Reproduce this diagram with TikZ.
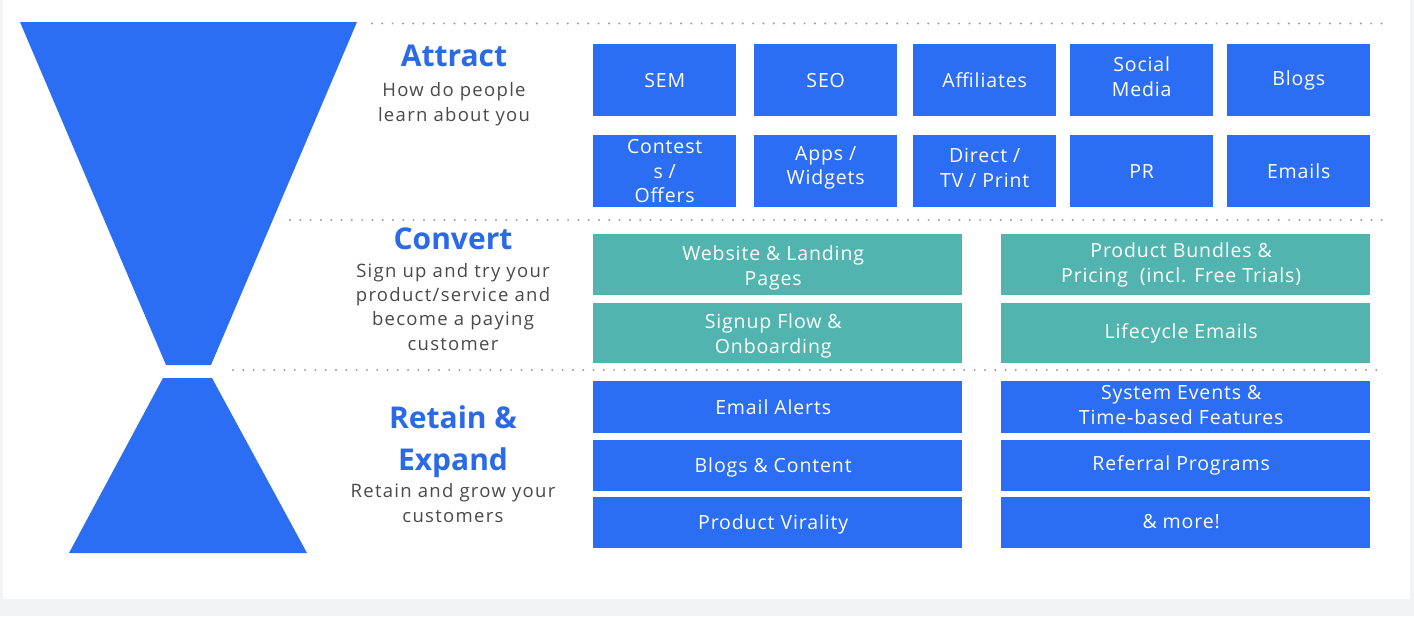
\documentclass[tikz,border=0pt]{standalone}
\usepackage{fontspec}
\setmainfont{Open Sans}
\definecolor{fblue}{HTML}{2B6EF3}
\definecolor{fteal}{HTML}{52B4AE}
\definecolor{hblue}{HTML}{2A6AE9}
\definecolor{sgray}{HTML}{4A4A4A}
\definecolor{bggray}{HTML}{F2F3F5}
\definecolor{dotgray}{HTML}{9C9C9C}
\begin{document}
\begin{tikzpicture}[x=1pt,y=-1pt,
  boxbase/.style={anchor=north west, inner sep=0pt},
  btext/.style={inner sep=0pt, align=center, text=white,
    font=\fontsize{19.5}{24.5}\selectfont\addfontfeature{LetterSpace=4.5}},
  wtext/.style={btext, xshift=-4.5pt},
  smallbox/.style={boxbase, fill=fblue, minimum width=143pt, minimum height=72pt},
  tealbox/.style={boxbase, fill=fteal, minimum width=369pt, minimum height=61pt},
  wideblue/.style={boxbase, fill=fblue, minimum width=369pt, minimum height=52pt},
  heading/.style={anchor=base, inner sep=0pt, align=center, text=hblue,
    font=\fontsize{30}{42}\selectfont\bfseries},
  subtitle/.style={anchor=base, inner sep=0pt, align=center, text=sgray,
    font=\fontsize{18.5}{24.3}\selectfont\addfontfeature{LetterSpace=7}},
  dotline/.style={dotgray, line width=2.2pt, line cap=round, dash pattern=on 0pt off 10.3pt},
  funnel/.style={fill=fblue}
]
\useasboundingbox (0,0) rectangle (1414,616);
\fill[bggray] (0,0) rectangle (1414,616);
\fill[white] (3,0) rectangle (1410,599);

% funnel
\fill[funnel] (20,22) -- (357,22) -- (211,365) -- (166,365) -- cycle;
\fill[funnel] (163,378) -- (212,378) -- (307,553) -- (69,553) -- cycle;

% dotted separators
\coordinate (d1a) at (372,23.5); \coordinate (d1b) at (1386,23.5);
\coordinate (d2a) at (290,220); \coordinate (d2b) at (1386,220);
\coordinate (d3a) at (233,370); \coordinate (d3b) at (1383,370);
\draw[dotline] (d1a) -- (d1b);
\draw[dotline] (d2a) -- (d2b);
\draw[dotline] (d3a) -- (d3b);

% headings (anchor=base refers to the last line's baseline)
\node[heading] (hattract) at (454,66) {Attract};
\node[subtitle] (sattract) at (454,121) {How do people\\learn about you};
\node[heading] (hconvert) at (453,249) {Convert};
\node[subtitle] (sconvert) at (453,350) {Sign up and try your\\product/service and\\become a paying\\customer};
\node[heading] (hretain) at (453,470) {Retain \&\\Expand};
\node[subtitle] (sretain) at (453,522) {Retain and grow your\\customers};

% attract boxes
\node[smallbox] (sem) at (593,44) {};
\node[smallbox] (seo) at (754,44) {};
\node[smallbox] (aff) at (913,44) {};
\node[smallbox] (social) at (1070,44) {};
\node[smallbox] (blogs) at (1227,44) {};
\node[smallbox] (contests) at (593,135) {};
\node[smallbox] (apps) at (754,135) {};
\node[smallbox] (direct) at (913,135) {};
\node[smallbox] (pr) at (1070,135) {};
\node[smallbox] (emails) at (1227,135) {};
\node[btext] (tsem) at (sem) {SEM};
\node[btext] (tseo) at (seo) {SEO};
\node[btext] (taff) at (aff) {Affiliates};
\node[btext, yshift=3.5pt] (tsocial) at (social) {Social\\Media};
\node[btext] (tblogs) at (blogs) {Blogs};
\node[btext] (tcontests) at (contests) {Contest\\s /\\Offers};
\node[btext, yshift=3.5pt] (tapps) at (apps) {Apps /\\Widgets};
\node[btext, yshift=3.5pt] (tdirect) at (direct) {Direct /\\TV / Print};
\node[btext] (tpr) at (pr) {PR};
\node[btext] (temails) at (emails) {Emails};

% convert boxes
\node[tealbox] (website) at (593,234) {};
\node[tealbox] (bundles) at (1001,234) {};
\node[tealbox, minimum height=60pt] (signup) at (593,303) {};
\node[tealbox, minimum height=60pt] (lifecycle) at (1001,303) {};
\node[wtext, yshift=-3pt] (twebsite) at (website) {Website \& Landing\\Pages};
\node[wtext] (tbundles) at (bundles) {Product Bundles \&\\Pricing\ \ (incl. Free Trials)};
\node[wtext, yshift=-2.5pt] (tsignup) at (signup) {Signup Flow \&\\Onboarding};
\node[wtext] (tlifecycle) at (lifecycle) {Lifecycle Emails};

% retain boxes
\node[wideblue] (alerts) at (593,381) {};
\node[wideblue] (sysevents) at (1001,381) {};
\node[wideblue, minimum height=51pt] (content) at (593,440) {};
\node[wideblue, minimum height=51pt] (referral) at (1001,440) {};
\node[wideblue, minimum height=51pt] (virality) at (593,497) {};
\node[wideblue, minimum height=51pt] (more) at (1001,497) {};
\node[wtext] (talerts) at (alerts) {Email Alerts};
\node[wtext, yshift=2pt] (tsysevents) at (sysevents) {System Events \&\\Time-based Features};
\node[wtext, yshift=-2pt] (tcontent) at (content) {Blogs \& Content};
\node[wtext] (treferral) at (referral) {Referral Programs};
\node[wtext, yshift=-2pt] (tvirality) at (virality) {Product Virality};
\node[wtext, yshift=1.5pt] (tmore) at (more) {\& more!};
\end{tikzpicture}
\end{document}
